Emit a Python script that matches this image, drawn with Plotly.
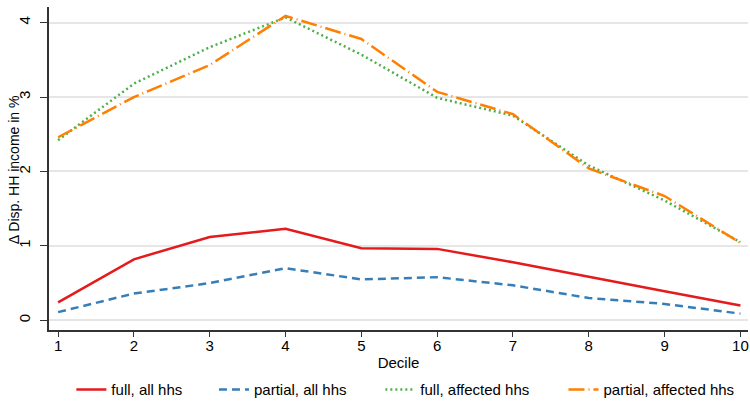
import plotly.graph_objects as go

deciles = [1, 2, 3, 4, 5, 6, 7, 8, 9, 10]
full_all = [0.24, 0.82, 1.12, 1.23, 0.97, 0.96, 0.78, 0.58, 0.39, 0.20]
partial_all = [0.11, 0.36, 0.50, 0.70, 0.55, 0.58, 0.47, 0.30, 0.22, 0.09]
full_affected = [2.42, 3.18, 3.67, 4.07, 3.57, 2.99, 2.75, 2.08, 1.61, 1.05]
partial_affected = [2.46, 3.00, 3.43, 4.09, 3.78, 3.07, 2.77, 2.04, 1.67, 1.04]
names = ["full, all hhs", "partial, all hhs", "full, affected hhs", "partial, affected hhs"]
y_title = "Δ Disp. HH income in %"
x_title = "Decile"

FONT = "Liberation Sans, Arial, sans-serif"
colors = ["#e41a1c", "#377eb8", "#4daf4a", "#ff7f00"]
dashes = ["solid", "8px,5px", "2px,3px", "16px,4px,1px,4px"]
series = [full_all, partial_all, full_affected, partial_affected]
legend_ids = ["legend", "legend2", "legend3", "legend4"]
legend_x = [0.032, 0.236, 0.474, 0.736]

fig = go.Figure()
for nm, ys, c, d, lg in zip(names, series, colors, dashes, legend_ids):
    fig.add_trace(go.Scatter(x=deciles, y=ys, mode="lines", name=nm, legend=lg,
                             line=dict(color=c, width=2.5, dash=d)))

legend_common = dict(orientation="h", xanchor="left", yref="container", y=0.028,
                     yanchor="middle", font=dict(size=15), bgcolor="rgba(0,0,0,0)")
layout_legends = {lg: dict(x=lx, **legend_common) for lg, lx in zip(legend_ids, legend_x)}

fig.add_annotation(text=y_title, xref="paper", yref="paper", x=-0.05, y=0.495,
                   textangle=-90, showarrow=False, xanchor="center", yanchor="middle",
                   font=dict(size=14, family=FONT, color="#000"))

fig.update_layout(
    width=750, height=401,
    margin=dict(l=49, r=2, t=7, b=71),
    plot_bgcolor="white", paper_bgcolor="white",
    font=dict(family=FONT, size=15, color="#000"),
    showlegend=True,
    xaxis=dict(range=[0.88, 10.1], tickvals=deciles, showgrid=False,
               showline=True, linecolor="#333", linewidth=1.5,
               ticks="outside", ticklen=5, tickcolor="#333",
               tickfont=dict(size=15), ticklabeloverflow="allow",
               ticklabelstandoff=-4,
               title=dict(text=x_title, standoff=5, font=dict(size=15)),
               zeroline=False, automargin=False),
    yaxis=dict(range=[-0.13, 4.21], tickvals=[0, 1, 2, 3, 4], tickangle=-90,
               showgrid=True, gridcolor="#e6e6e6", gridwidth=1.5,
               showline=True, linecolor="#333", linewidth=1.5,
               ticks="outside", ticklen=7, tickcolor="#333",
               tickfont=dict(size=15), ticklabeloverflow="allow",
               ticklabelstandoff=4,
               zeroline=False, automargin=False),
    **layout_legends,
)

fig.write_html("out.html", config={"displayModeBar": False},
               post_script="document.body.style.margin='0';")
